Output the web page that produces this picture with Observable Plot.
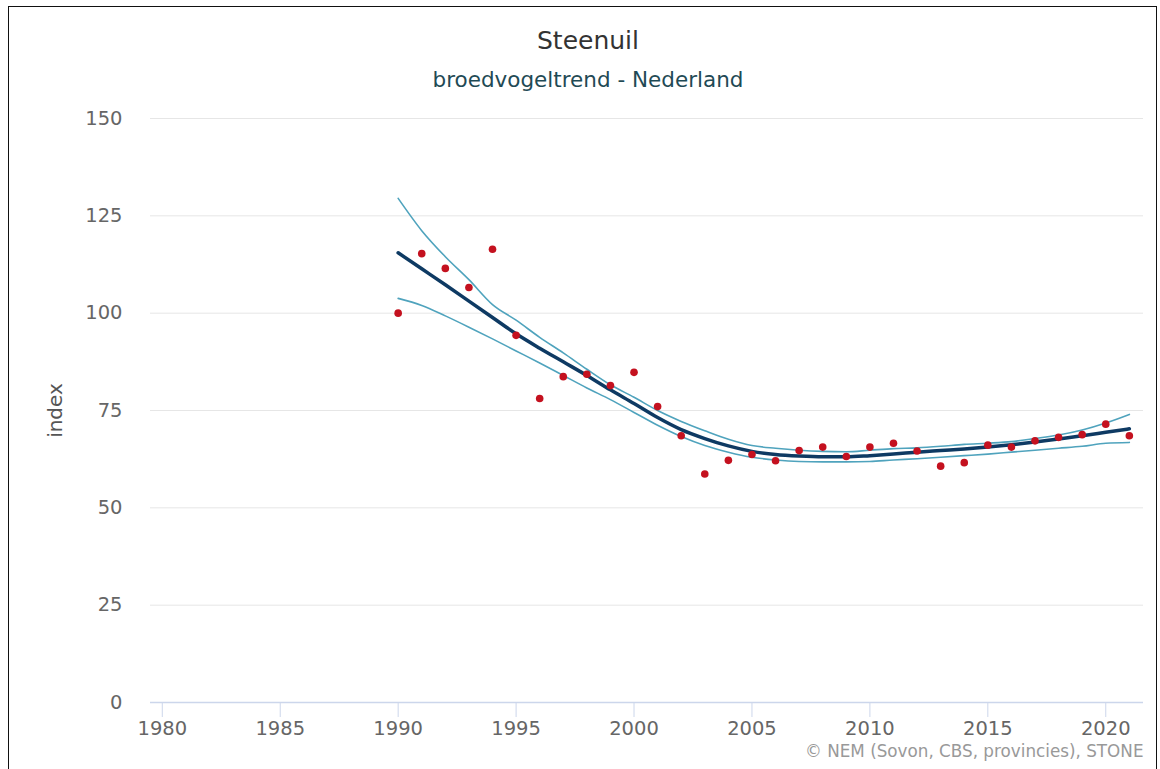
<!DOCTYPE html>
<html>
<head>
<meta charset="utf-8">
<script src="https://cdn.jsdelivr.net/npm/d3@7"></script>
<script src="https://cdn.jsdelivr.net/npm/@observablehq/plot@0.6"></script>
<style>
  html, body { margin: 0; padding: 0; background: #fff; }
  #wrap { position: relative; width: 1160px; height: 769px; overflow: hidden; font-family: "DejaVu Sans", sans-serif; }
  #frame { position: absolute; left: 8px; top: 6px; width: 1149px; height: 800px; border: 1.5px solid #111; box-sizing: border-box; }
  #header { position: relative; height: 100px; }
  #title { position: absolute; left: 16px; right: 0; top: 26px; font-size: 25px; color: #333; text-align: center; }
  #subtitle { position: absolute; left: 16px; right: 0; top: 67px; font-size: 21.5px; color: #1f4a55; text-align: center; }
  g[aria-label="x-axis tick"] { stroke: #ccd6eb; }
</style>
</head>
<body>
<div id="wrap">
  <div id="frame"></div>
  <div id="header"><div id="title">Steenuil</div><div id="subtitle">broedvogeltrend - Nederland</div></div>
  <div id="chart"></div>
</div>
<script>
const years = d3.range(1990, 2022);
const observed = [100, 115.3, 111.5, 106.6, 116.4, 94.3, 78.1, 83.7, 84.3, 81.4, 84.8, 76.0, 68.5, 58.7, 62.2, 63.7, 62.1, 64.7, 65.6, 63.2, 65.6, 66.6, 64.6, 60.7, 61.6, 66.1, 65.6, 67.2, 68.1, 68.8, 71.5, 68.5];
const trend = [115.5, 111.4, 107.3, 103.1, 98.9, 94.7, 91.0, 87.5, 84.0, 80.3, 76.8, 73.2, 70.1, 67.8, 65.9, 64.5, 63.7, 63.3, 63.1, 63.1, 63.4, 63.8, 64.3, 64.7, 65.1, 65.6, 66.2, 66.9, 67.7, 68.5, 69.4, 70.3];
const upper = [129.5, 121.2, 114.5, 108.6, 102.2, 98.2, 93.8, 89.8, 85.6, 81.6, 78.4, 75.0, 72.2, 69.8, 67.6, 66.0, 65.3, 64.8, 64.5, 64.4, 64.8, 65.2, 65.4, 65.8, 66.3, 66.6, 67.0, 67.8, 68.7, 70.0, 71.8, 74.0];
const lower = [103.8, 102.0, 99.3, 96.4, 93.4, 90.3, 87.2, 84.0, 80.8, 77.8, 74.5, 71.2, 68.3, 66.0, 64.3, 63.0, 62.3, 61.9, 61.8, 61.8, 61.9, 62.3, 62.6, 63.0, 63.4, 63.8, 64.3, 64.8, 65.3, 65.8, 66.6, 66.8];
const xTicks = [1980, 1985, 1990, 1995, 2000, 2005, 2010, 2015, 2020];
const yTicks = [0, 25, 50, 75, 100, 125, 150];

const rows = years.map((y, i) => ({year: y, obs: observed[i], trend: trend[i], upper: upper[i], lower: lower[i]}));

const chart = Plot.plot({
  width: 1160,
  height: 669,
  marginTop: 18,
  marginBottom: 67,
  marginLeft: 150,
  marginRight: 17,
  style: {fontFamily: "'DejaVu Sans', sans-serif", fontSize: "19.5px", color: "#666", background: "transparent"},
  x: {domain: [1979.5, 2021.6]},
  y: {domain: [0, 150]},
  marks: [
    Plot.gridY(yTicks, {stroke: "#e6e6e6", strokeOpacity: 1, strokeWidth: 1}),
    Plot.ruleY([0], {stroke: "#ccd6eb", strokeWidth: 1.5}),
    Plot.axisY(yTicks, {tickSize: 0, tickPadding: 28, label: null, fill: "#666"}),
    Plot.axisX(xTicks, {tickSize: 15, tickPadding: 4, tickFormat: d => String(d), label: null, fill: "#666"}),
    Plot.text(["index"], {frameAnchor: "left", textAnchor: "middle", dx: -95, rotate: -90, fill: "#555", fontSize: 20}),
    Plot.text(["© NEM (Sovon, CBS, provincies), STONE"], {frameAnchor: "bottom-right", dx: 0, dy: 54, textAnchor: "end", fill: "#999", fontSize: 16.8}),
    Plot.line(rows, {x: "year", y: "upper", stroke: "#4fa3bd", strokeWidth: 1.6, curve: "monotone-x"}),
    Plot.line(rows, {x: "year", y: "lower", stroke: "#4fa3bd", strokeWidth: 1.6, curve: "monotone-x"}),
    Plot.line(rows, {x: "year", y: "trend", stroke: "#0e3a63", strokeWidth: 3.5, curve: "monotone-x"}),
    Plot.dot(rows, {x: "year", y: "obs", r: 3.8, fill: "#c4111f", stroke: "none"})
  ]
});
document.getElementById("chart").appendChild(chart);
</script>
</body>
</html>
